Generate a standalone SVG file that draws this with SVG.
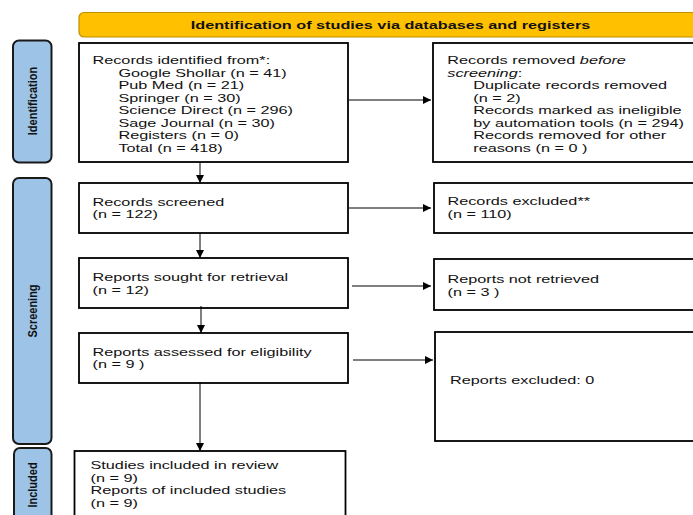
<svg xmlns="http://www.w3.org/2000/svg" width="693" height="515" viewBox="0 0 693 515">
<defs>
<marker id="ah" viewBox="0 0 10 10" refX="10" refY="5" markerWidth="8" markerHeight="8" markerUnits="userSpaceOnUse" orient="auto">
<path d="M0,0 L10,5 L0,10 Z" fill="#000"/>
</marker>
<style>
.box{fill:#fff;stroke:#000;stroke-width:1.8}
.side{fill:#9DC3E6;stroke:#1a1a1a;stroke-width:2}
.banner{fill:#FFC000;stroke:#BF9000;stroke-width:1.2}
.t{font-family:"Liberation Sans",Arial,sans-serif;font-size:11.2px;fill:#111}
.b{font-family:"Liberation Sans",Arial,sans-serif;font-size:11.2px;font-weight:bold;fill:#111}
.s{font-family:"Liberation Sans",Arial,sans-serif;font-size:11px;font-weight:bold;fill:#111}
.c{stroke:#000;stroke-width:1;fill:none;marker-end:url(#ah)}
</style>
</defs>
<rect width="693" height="515" fill="#fff"/>

<g id="banner">
<rect class="banner" x="79" y="12.5" width="640" height="24.5" rx="5"/>
<text class="b" text-anchor="middle" transform="matrix(1.45 0 0 1 390.5 0)" x="0" y="29">Identification of studies via databases and registers</text>
</g>

<g id="side-identification">
<rect class="side" x="13" y="40.5" width="38.5" height="122" rx="6"/>
<text class="s" text-anchor="middle" transform="translate(36.5 101) rotate(-90) scale(1 1.15)">Identification</text>
</g>
<g id="side-screening">
<rect class="side" x="13" y="178" width="38.5" height="266" rx="6"/>
<text class="s" text-anchor="middle" transform="translate(36.5 311) rotate(-90) scale(1 1.15)">Screening</text>
</g>
<g id="side-included">
<rect class="side" x="14" y="448" width="37.5" height="90" rx="6"/>
<text class="s" text-anchor="middle" transform="translate(36.5 485) rotate(-90) scale(1 1.15)">Included</text>
</g>

<g id="records-identified">
<rect class="box" x="79" y="43" width="269" height="119"/>
<text class="t" transform="matrix(1.45 0 0 1 92.5 0)">
<tspan x="0" y="64">Records identified from*:</tspan>
<tspan x="17.9" y="76.6">Google Shollar (n = 41)</tspan>
<tspan x="17.9" y="89.1">Pub Med (n = 21)</tspan>
<tspan x="17.9" y="101.7">Springer (n = 30)</tspan>
<tspan x="17.9" y="114.3">Science Direct (n = 296)</tspan>
<tspan x="17.9" y="126.9">Sage Journal (n = 30)</tspan>
<tspan x="17.9" y="139.4">Registers (n = 0)</tspan>
<tspan x="17.9" y="152">Total (n = 418)</tspan>
</text>
</g>

<g id="records-removed">
<rect class="box" x="433" y="43" width="270" height="119"/>
<text class="t" transform="matrix(1.45 0 0 1 447.3 0)">
<tspan x="0" y="64">Records removed <tspan font-style="italic">before</tspan></tspan>
<tspan x="0" y="76.6" font-style="italic">screening</tspan><tspan>:</tspan>
<tspan x="17.9" y="89.1">Duplicate records removed</tspan>
<tspan x="17.9" y="101.7">(n = 2)</tspan>
<tspan x="17.9" y="114.3">Records marked as ineligible</tspan>
<tspan x="17.9" y="126.9">by automation tools (n = 294)</tspan>
<tspan x="17.9" y="139.4">Records removed for other</tspan>
<tspan x="17.9" y="152">reasons (n = 0 )</tspan>
</text>
</g>

<g id="records-screened">
<rect class="box" x="79" y="183" width="269" height="50"/>
<text class="t" transform="matrix(1.45 0 0 1 92.5 0)">
<tspan x="0" y="206">Records screened</tspan>
<tspan x="0" y="218.5">(n = 122)</tspan>
</text>
</g>

<g id="records-excluded">
<rect class="box" x="434" y="183" width="270" height="50"/>
<text class="t" transform="matrix(1.45 0 0 1 447.5 0)">
<tspan x="0" y="205.5">Records excluded**</tspan>
<tspan x="0" y="218">(n = 110)</tspan>
</text>
</g>

<g id="reports-sought">
<rect class="box" x="79" y="258" width="269" height="50"/>
<text class="t" transform="matrix(1.45 0 0 1 92.5 0)">
<tspan x="0" y="281.5">Reports sought for retrieval</tspan>
<tspan x="0" y="294">(n = 12)</tspan>
</text>
</g>

<g id="reports-not-retrieved">
<rect class="box" x="434" y="259" width="270" height="51"/>
<text class="t" transform="matrix(1.45 0 0 1 447.5 0)">
<tspan x="0" y="283.5">Reports not retrieved</tspan>
<tspan x="0" y="296">(n = 3 )</tspan>
</text>
</g>

<g id="reports-assessed">
<rect class="box" x="79" y="333" width="269" height="50"/>
<text class="t" transform="matrix(1.45 0 0 1 92.5 0)">
<tspan x="0" y="356">Reports assessed for eligibility</tspan>
<tspan x="0" y="368.5">(n = 9 )</tspan>
</text>
</g>

<g id="reports-excluded">
<rect class="box" x="435" y="332" width="270" height="109"/>
<text class="t" transform="matrix(1.45 0 0 1 450 0)">
<tspan x="0" y="384">Reports excluded: 0</tspan>
</text>
</g>

<g id="studies-included">
<rect class="box" x="74.5" y="451" width="271" height="80"/>
<text class="t" transform="matrix(1.45 0 0 1 90.5 0)">
<tspan x="0" y="469.3">Studies included in review</tspan>
<tspan x="0" y="481.8">(n = 9)</tspan>
<tspan x="0" y="494.5">Reports of included studies</tspan>
<tspan x="0" y="507">(n = 9)</tspan>
</text>
</g>

<g id="connectors">
<line class="c" x1="200" y1="162" x2="200" y2="183"/>
<line class="c" x1="200" y1="233" x2="200" y2="258"/>
<line class="c" x1="201" y1="306" x2="201" y2="333"/>
<line class="c" x1="200" y1="382" x2="200" y2="451"/>
<line class="c" x1="349" y1="100" x2="431" y2="100"/>
<line class="c" x1="349" y1="208" x2="431" y2="208"/>
<line class="c" x1="352" y1="286" x2="431" y2="286"/>
<line class="c" x1="353" y1="360" x2="433" y2="360"/>
</g>
</svg>
